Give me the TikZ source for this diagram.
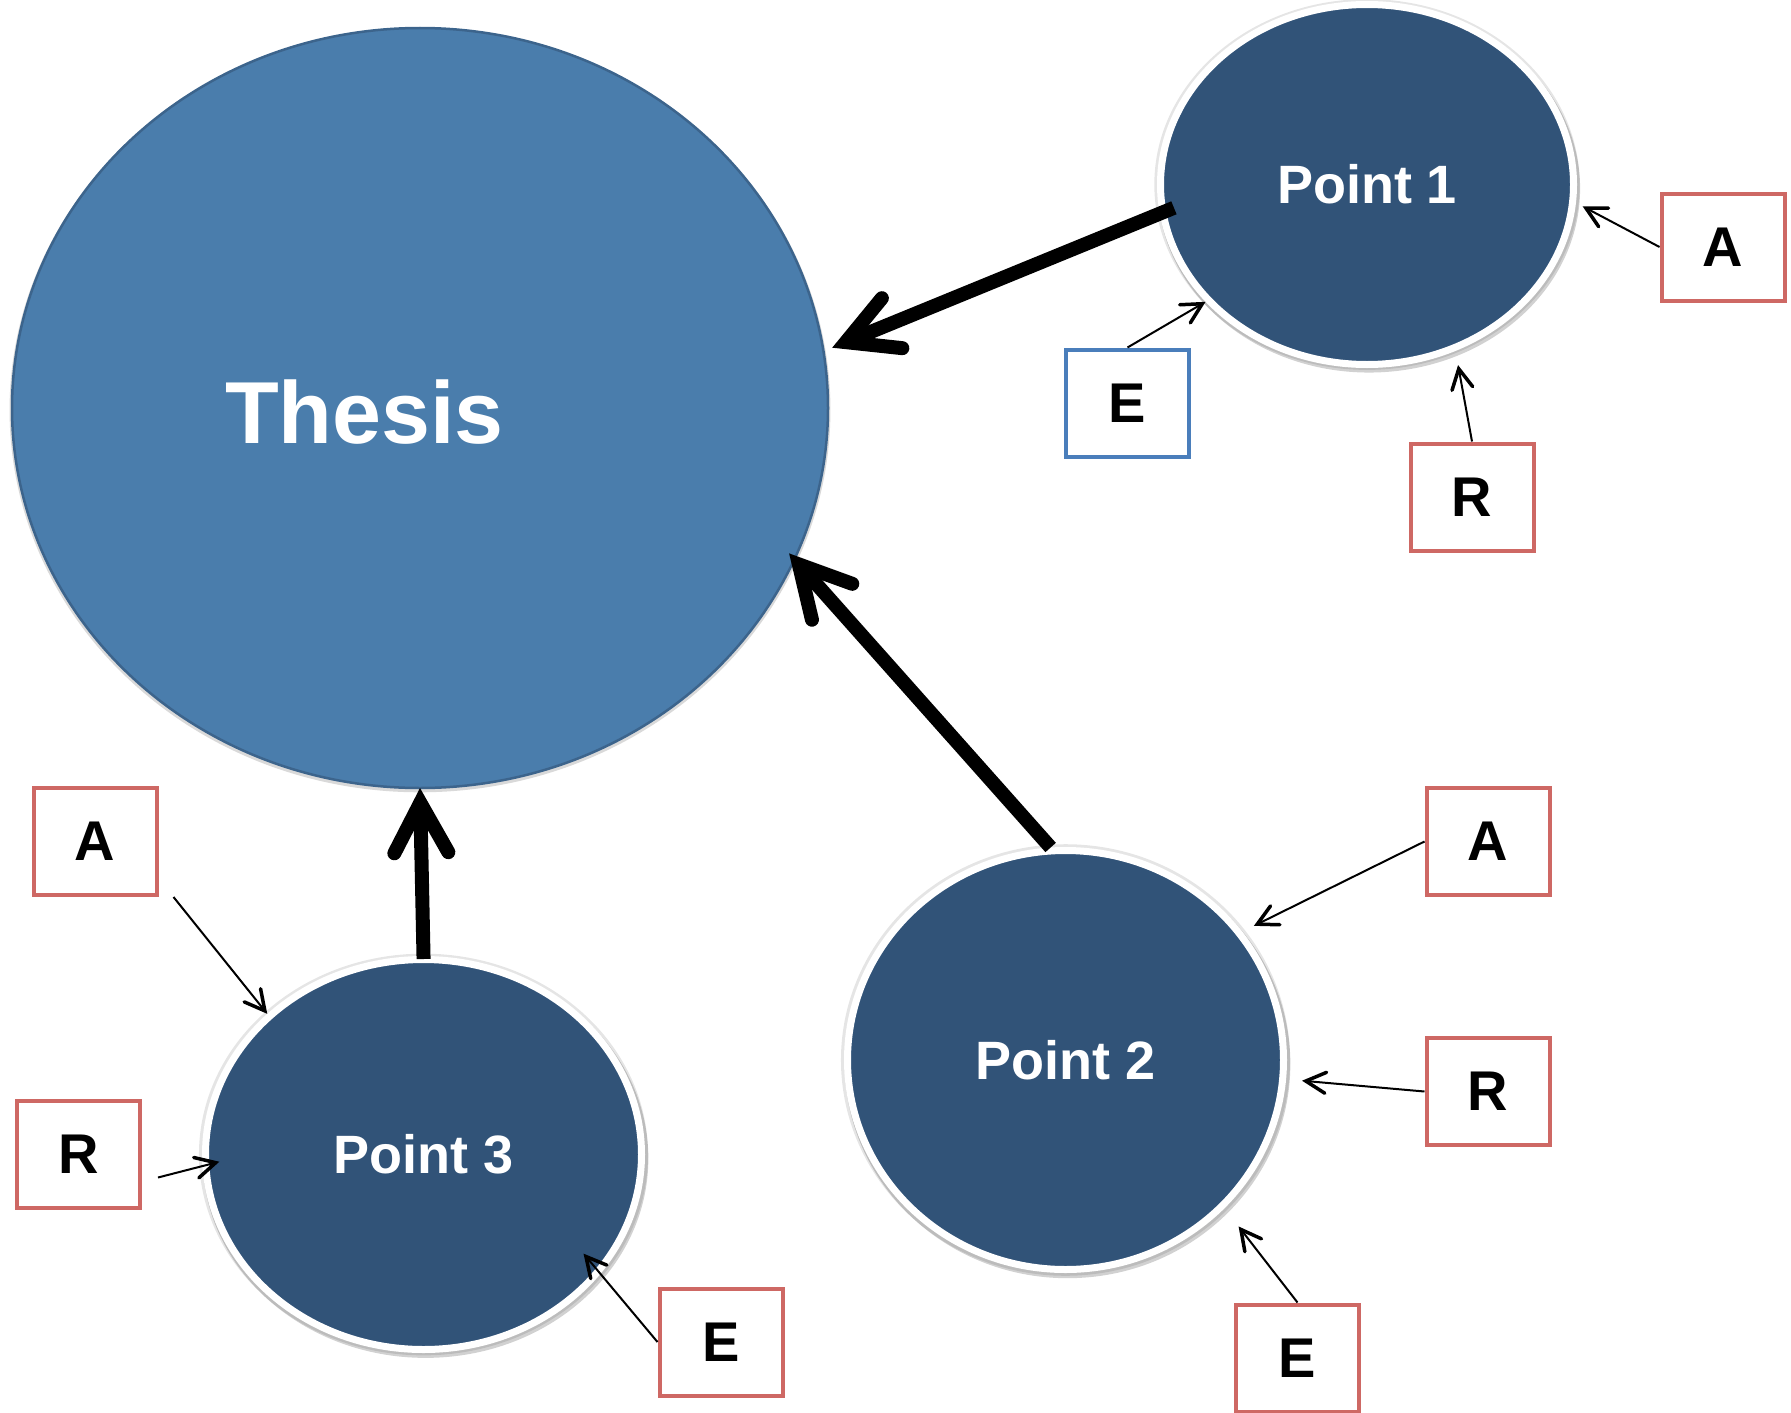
\documentclass[tikz,border=0pt]{standalone}
\usepackage{fontspec}
\setmainfont{Liberation Sans}
\usetikzlibrary{arrows.meta,shadows,shapes.geometric}
\definecolor{thesisblue}{RGB}{74,125,172}
\definecolor{thesisrim}{RGB}{60,100,140}
\definecolor{pointblue}{RGB}{49,83,120}
\definecolor{boxred}{RGB}{206,104,100}
\definecolor{boxblue}{RGB}{74,126,187}
\begin{document}
\begin{tikzpicture}[x=1pt,y=-1pt,
  pointcircle/.style={ellipse, draw=white, line width=7pt, fill=pointblue, text=white,
    font=\fontsize{54}{60}\selectfont\bfseries, inner sep=0pt,
    general shadow={fill=black, opacity=0.10, shadow scale=1.03, shadow xshift=0pt, shadow yshift=0pt},
    general shadow={fill=black, opacity=0.18, shadow scale=1.022, shadow xshift=2pt, shadow yshift=-4pt}},
  letterbox/.style={rectangle, draw=boxred, line width=4pt, fill=white,
    minimum width=123pt, minimum height=107pt, inner sep=0pt,
    font=\fontsize{56}{60}\selectfont\bfseries},
  bigarrow/.style={line width=14pt,
    -{Straight Barb[length=50pt, width=54pt, line cap=round, line join=miter]}},
  smallarrow/.style={line width=2pt,
    -{Straight Barb[length=20pt, width=21pt, line width=3.5pt, line cap=round]}},
]
\useasboundingbox (0,0) rectangle (1791,1413);

% main thesis
\node[ellipse, fill=thesisblue, draw=thesisrim, line width=2.5pt, outer sep=0pt,
      minimum width=816pt, minimum height=760pt, inner sep=0pt,
      general shadow={fill=black, opacity=0.15, shadow scale=1.006, shadow xshift=0pt, shadow yshift=-2pt}] (thesis) at (420,408) {};
\node[text=white, font=\fontsize{88}{90}\selectfont\bfseries, anchor=base] (thesistext) at (364.5,443) {Thesis};

% points
\node[pointcircle, minimum width=413pt, minimum height=360pt] (p1) at (1367,184.5) {Point 1};
\node[pointcircle, minimum width=436pt, minimum height=419pt] (p2) at (1065.5,1060) {Point 2};
\node[pointcircle, minimum width=436pt, minimum height=390pt] (p3) at (423.5,1154.5) {Point 3};

% boxes
\node[letterbox] (a1) at (1723,247) {A};
\node[letterbox, draw=boxblue] (e1) at (1127.5,403) {E};
\node[letterbox] (r1) at (1472,497) {R};
\node[letterbox] (a2) at (1488,841.5) {A};
\node[letterbox] (r2) at (1488,1091.5) {R};
\node[letterbox] (e2) at (1297.5,1358) {E};
\node[letterbox] (a3) at (95,841.5) {A};
\node[letterbox] (r3) at (78.5,1154.5) {R};
\node[letterbox] (e3) at (721,1342) {E};

% thick arrows
\draw[bigarrow, shorten <=-15.4pt, shorten >=9.5pt] (p1.188) -- (thesis.8.24);
\draw[bigarrow, shorten >=-7.8pt] (p2.94.16) -- (thesis.-22.4);
\draw[bigarrow, shorten <=-3pt] (p3.90) -- (thesis.-90);

% thin arrows
\draw[smallarrow] (e1.north) -- (p1.-144.1);
\draw[smallarrow, shorten >=7.5pt] (a1.west) -- (p1.-5.5);
\draw[smallarrow, shorten >=14.4pt] (r1.north) -- (p1.-62.8);
\draw[smallarrow, shorten >=13pt] (a2.west) -- (p2.36.1);
\draw[smallarrow, shorten >=16pt] (r2.west) -- (p2.-5.94);
\draw[smallarrow, shorten >=23pt] (e2.north) -- (p2.-43.06);
\draw[smallarrow] ([xshift=15pt]a3.south east) -- (p3.138);
\draw[smallarrow, shorten >=-17.5pt] ([xshift=16pt,yshift=-23pt]r3.east) -- (p3.-177);
\draw[smallarrow, shorten >=-26.4pt] (e3.west) -- (p3.-34.5);
\end{tikzpicture}
\end{document}
